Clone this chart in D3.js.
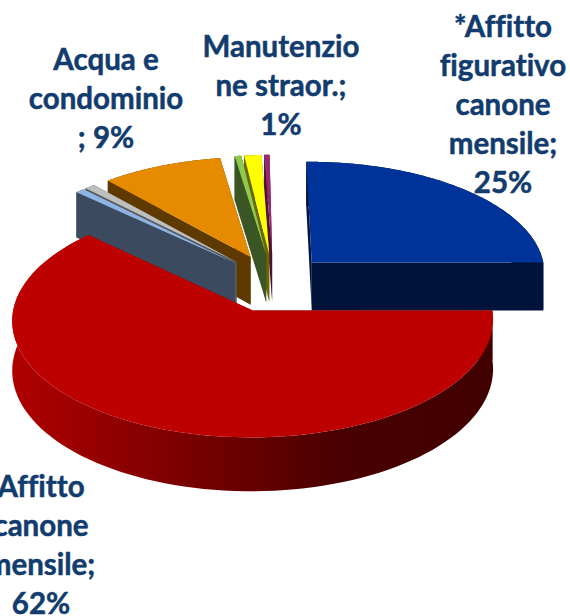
<!DOCTYPE html>
<html>
<head>
<meta charset="utf-8">
<script src="https://cdn.jsdelivr.net/npm/d3@7"></script>
<style>
  html, body { margin: 0; padding: 0; background: #fff; overflow: hidden; }
  svg { display: block; }
  text { font-family: Lato, "Open Sans", sans-serif; font-weight: 700; font-size: 29.5px; fill: #123c6e; stroke: #123c6e; stroke-width: 0.5px; text-anchor: middle; font-variant-ligatures: none; font-feature-settings: "liga" 0, "dlig" 0; }
</style>
</head>
<body>
<div id="chart"></div>
<script>
// slices in the order of the original sheet, clockwise from the right
var categories = ["Affitto canone mensile", "Voce a", "Voce b", "Acqua e condominio", "Voce c", "Manutenzione straor.", "Voce d", "*Affitto figurativo canone mensile"];
var shares = [0.62, 0.007, 0.008, 0.091, 0.005, 0.013, 0.004, 0.252];
var labelLines = [
  ["Affitto", "canone", "mensile;"],
  null,
  null,
  ["Acqua e", "condominio"],
  null,
  ["Manutenzio", "ne straor.;"],
  null,
  ["*Affitto", "figurativo", "canone", "mensile;"]
];

var topColors = ["#bd0000", "#8db4e2", "#bfbfbf", "#e68a00", "#8ecb4c", "#ffff00", "#99296f", "#003399"];
var wallColors = ["url(#redWall)", "#3b4a5e", "#5a5a5a", "#5e3a00", "#3c5524", "#6b6600", "#4a1238", "#00133a"];
var labelCenters = [[41, 487], null, null, [106, 60], null, [281, 47], null, [503, 27]];

var w = 570;
var h = 616;
var lineGap = 38.8;
var explodeU = 0.235;
var explodeV = 0.26;
var perspective = 0.08;
var depth = 48.5;

// unit disc coordinates to the screen
var xScale = d3.scaleLinear().domain([0, 1]).range([273.5, 508.5]);
var yScale = d3.scaleLinear().domain([0, 1]).range([283, 171]);

function project(u, v, down) {
  var s = 1 / (1 + perspective * v);
  var x = xScale(0) + (xScale(u) - xScale(0)) * s;
  var y = yScale(0) + (yScale(v) - yScale(0)) * s;
  return [x, y + (down ? depth * s : 0)];
}

var pie = d3.pie().sort(null).startAngle(Math.PI / 2).endAngle(Math.PI * 2.5);
var slices = pie(shares);

var line = d3.line();

var svg = d3.select("#chart")
  .append("svg")
  .attr("width", w)
  .attr("height", h);

var grad = svg.append("defs").append("linearGradient")
  .attr("id", "redWall")
  .attr("gradientUnits", "userSpaceOnUse")
  .attr("x1", 12).attr("x2", 492).attr("y1", 0).attr("y2", 0);
grad.append("stop").attr("offset", "0").attr("stop-color", "#b00000");
grad.append("stop").attr("offset", "0.68").attr("stop-color", "#4a0000");
grad.append("stop").attr("offset", "1").attr("stop-color", "#400000");

// back to front: the quarter at the top right first, then round to the red one
var drawOrder = [7, 6, 5, 4, 3, 2, 1, 0];

drawOrder.forEach(function(i) {
  var d = slices[i];
  var mid = (d.startAngle + d.endAngle) / 2;
  var u0 = explodeU * Math.sin(mid);
  var v0 = explodeV * Math.cos(mid);

  var rim = d3.range(0, 101).map(function(n) {
    var a = d.startAngle + (d.endAngle - d.startAngle) * n / 100;
    return [u0 + Math.sin(a), v0 + Math.cos(a)];
  });
  var first = rim[0];
  var last = rim[rim.length - 1];

  var g = svg.append("g");

  function wall(points) {
    var top = points.map(function(p) { return project(p[0], p[1], false); });
    var low = points.map(function(p) { return project(p[0], p[1], true); }).reverse();
    g.append("path")
      .attr("d", line(top.concat(low)) + "Z")
      .attr("fill", wallColors[i]);
  }

  wall(rim);
  wall([[u0, v0], first]);
  wall([[u0, v0], last]);

  var face = [[u0, v0]].concat(rim).map(function(p) { return project(p[0], p[1], false); });
  g.append("path")
    .attr("d", line(face) + "Z")
    .attr("fill", topColors[i]);
});

var pct = d3.format(".0%");

categories.forEach(function(name, i) {
  if (!labelLines[i]) return;
  var lines = labelLines[i].slice();
  var endsOpen = lines[lines.length - 1].slice(-1) === ";";
  lines.push((endsOpen ? "" : "; ") + pct(shares[i]));
  var t = svg.append("text").attr("aria-label", name);
  lines.forEach(function(s, n) {
    t.append("tspan")
      .attr("x", labelCenters[i][0])
      .attr("y", labelCenters[i][1] + n * lineGap)
      .attr("dy", "0.35em")
      .text(s);
  });
});
</script>
</body>
</html>
